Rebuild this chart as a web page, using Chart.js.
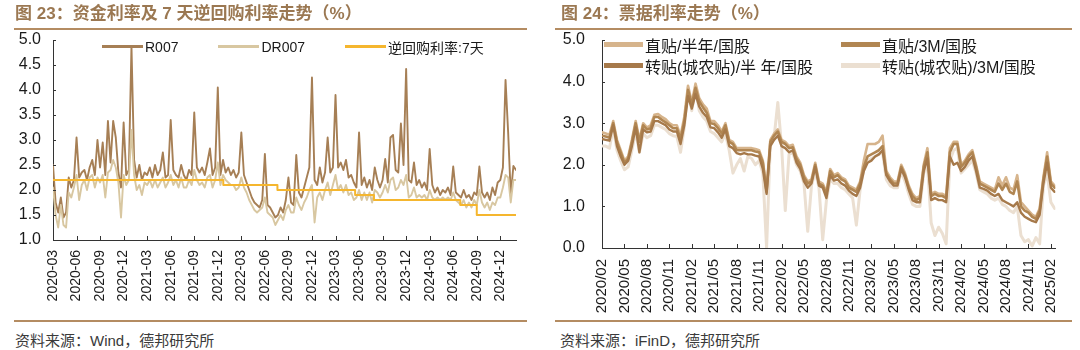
<!DOCTYPE html>
<html lang="zh-CN">
<head>
<meta charset="utf-8">
<title>资金利率及票据利率走势</title>
<script src="https://cdn.jsdelivr.net/npm/chart.js@4.4.1/dist/chart.umd.min.js"></script>
<style>
  html, body { margin: 0; padding: 0; background: #fff; }
  body { width: 1080px; height: 350px; position: relative; overflow: hidden;
         font-family: 'Liberation Sans', 'Noto Sans CJK SC', sans-serif; }
  .panel { position: absolute; top: 0; width: 540px; height: 350px; }
  .panel canvas { position: absolute; left: 0; top: 0; }
  .title { position: absolute; top: 4px; font-size: 17px; font-weight: bold; color: #9b7852;
           white-space: nowrap; line-height: 20px; }
  .rule { position: absolute; height: 2px; background: #b48c62; }
  .source { position: absolute; top: 331px; font-size: 15px; color: #3a3a3a;
            white-space: nowrap; line-height: 20px; }
  .legend { position: absolute; color: #1a1a1a; white-space: nowrap; }
  .legend .item { display: flex; align-items: center; height: 21px; }
  .legend .swatch { display: inline-block; margin-right: 2px; }
  #legendL { left: 102px; top: 36px; font-size: 14px; display: flex; gap: 40px; }
  #legendR { left: 64px; top: 34px; font-size: 16px; display: grid; grid-template-columns: 237px auto; }
</style>
</head>
<body>

<div class="panel" style="left:0">
  <canvas id="repoChart" width="540" height="320"></canvas>
  <div class="title" style="left:15px">图 23：资金利率及 7 天逆回购利率走势（%）</div>
  <div class="rule" style="left:14px; width:513px; top:28px"></div>
  <div class="legend" id="legendL"></div>
  <div class="rule" style="left:14px; width:513px; top:320px"></div>
  <div class="source" style="left:15px">资料来源：Wind，德邦研究所</div>
</div>

<div class="panel" style="left:540px">
  <canvas id="billChart" width="540" height="320"></canvas>
  <div class="title" style="left:21px">图 24：票据利率走势（%）</div>
  <div class="rule" style="left:15px; width:517px; top:28px"></div>
  <div class="legend" id="legendR"></div>
  <div class="rule" style="left:15px; width:517px; top:320px"></div>
  <div class="source" style="left:20px">资料来源：iFinD，德邦研究所</div>
</div>

<script>
// ── Left chart: 资金利率, 3 readings per month from 2020-03 ──
const repoTicks = ['2020-03', '2020-06', '2020-09', '2020-12', '2021-03', '2021-06', '2021-09', '2021-12',
  '2022-03', '2022-06', '2022-09', '2022-12', '2023-03', '2023-06', '2023-09', '2023-12',
  '2024-03', '2024-06', '2024-09', '2024-12'];

const r007 = [
  2.50, 1.75, 1.55,  1.85, 1.45, 1.55,  2.25, 2.05, 2.20,  3.05, 2.25, 2.35,  2.40, 2.20, 2.45,
  2.60, 2.30, 3.00,  2.45, 2.95, 2.30,  3.38, 2.55, 3.38,  3.05, 2.35, 2.05,  3.35, 2.30, 2.40,
  4.87, 2.60, 2.25,  2.50, 2.20, 2.35,  2.30, 2.45, 2.25,  2.50, 2.30, 2.40,  2.75, 2.25, 2.30,
  3.40, 2.40, 2.30,  2.25, 2.50, 2.30,  2.20, 2.40, 2.30,  3.55, 2.45, 2.35,  2.45, 2.30, 2.55,
  2.83, 2.30, 2.45,  4.05, 2.30, 2.60,  2.35, 2.45, 2.30,  2.40, 2.25, 2.35,  3.15, 2.30, 2.15,
  2.00, 1.85, 1.75,  1.70, 1.65, 1.80,  2.72, 1.70, 1.65,  1.55, 1.45, 1.50,  1.65, 1.55, 1.80,
  2.25, 1.75, 1.70,  2.70, 1.95, 1.85,  2.05, 2.25, 2.45,  4.25, 2.20, 2.10,  2.45, 2.15, 2.35,
  3.05, 2.35, 2.45,  3.90, 2.45, 2.55,  2.40, 2.60, 2.25,  2.30, 2.15, 2.05,  3.15, 2.10, 2.25,
  2.05, 2.20, 2.00,  2.45, 2.20, 2.05,  2.20, 2.62, 2.15,  3.05, 3.10, 2.40,  2.35, 3.33, 2.50,
  4.42, 2.20, 2.15,  2.55, 2.10, 2.20,  2.05, 2.15, 2.00,  2.82, 2.10, 1.95,  2.05, 1.90, 2.00,
  1.95, 2.05, 1.90,  2.47, 1.95, 1.90,  1.85, 2.00, 1.85,  1.90, 1.80, 1.95,  1.90, 2.47, 1.95,
  1.85, 1.95, 1.80,  2.05, 1.90, 2.15,  2.20, 2.45, 4.20,  3.15, 1.90, 2.48,  2.40
];

const dr007 = [
  2.05, 1.50, 1.25,  1.70, 1.30, 1.25,  1.95, 1.85, 2.05,  2.30, 1.80, 2.10,  2.20, 2.00, 2.25,
  2.30, 2.05, 2.25,  2.15, 2.30, 1.85,  2.35, 2.40, 2.60,  2.45, 2.15, 1.45,  2.30, 2.10, 2.20,
  3.20, 2.30, 2.00,  2.10, 1.90, 2.15,  2.10, 2.20, 2.05,  2.20, 2.05, 2.15,  2.25, 2.05, 2.15,
  2.30, 2.10, 2.20,  2.05, 2.25, 2.05,  2.05, 2.20, 2.10,  2.40, 2.20, 2.10,  2.15, 2.05, 2.25,
  2.30, 2.05, 2.20,  2.55, 2.10, 2.30,  2.20, 2.15, 2.10,  2.10, 2.00, 2.05,  2.25, 2.05, 1.95,
  1.80, 1.70, 1.60,  1.55, 1.60, 1.65,  1.85, 1.55, 1.50,  1.45, 1.30, 1.40,  1.50, 1.40, 1.60,
  1.70, 1.55, 1.55,  1.85, 1.70, 1.60,  1.75, 1.85, 2.00,  2.10, 1.35, 1.85,  1.95, 1.80, 2.00,
  2.15, 1.90, 2.10,  2.30, 2.00, 2.10,  1.95, 2.10, 1.90,  1.95, 1.80, 1.85,  2.00, 1.80, 1.95,
  1.80, 1.95, 1.75,  2.00, 1.95, 1.85,  1.95, 2.10, 1.95,  2.20, 2.25, 2.00,  2.05, 2.20, 2.10,
  2.30, 1.85, 1.90,  2.05, 1.85, 1.90,  1.85, 1.90, 1.80,  2.00, 1.85, 1.80,  1.85, 1.80, 1.85,
  1.80, 1.85, 1.80,  1.95, 1.80, 1.75,  1.70, 1.80, 1.65,  1.75, 1.65, 1.80,  1.70, 2.00, 1.75,
  1.65, 1.75, 1.60,  1.75, 1.70, 1.85,  1.85, 2.05, 2.30,  2.25, 1.75, 2.20,  2.20
];

// 7天逆回购: months since 2020-03 at which the rate changed
const repoMonths = [0, 21.7, 28.6, 38.5, 40.9, 51.9, 54.0, 59];
const repoRates = [2.20, 2.10, 2.00, 1.90, 1.80, 1.70, 1.50, 1.50];

// ── Right chart: 票据利率, 2 readings per month from 2020-02 ──
const billTicks = ['2020/02', '2020/05', '2020/08', '2020/11', '2021/02', '2021/05', '2021/08', '2021/11',
  '2022/02', '2022/05', '2022/08', '2022/11', '2023/02', '2023/05', '2023/08', '2023/11',
  '2024/02', '2024/05', '2024/08', '2024/11', '2025/02'];

const zt6m = [
  2.78, 2.75, 2.72, 3.05, 2.60, 2.35, 2.10, 2.20, 2.60, 3.05, 2.60, 3.00, 2.90, 2.95, 3.20, 3.22, 3.15, 3.10, 3.00, 2.95,
  2.95, 2.70, 3.15, 3.90, 3.50, 3.95, 3.60, 3.45, 3.35, 3.05, 3.05, 2.95, 2.80, 3.00, 2.60, 2.55, 2.40, 2.40, 2.40, 2.40,
  2.40, 2.38, 2.35, 2.10, 1.40, 2.60, 2.75, 2.85, 2.60, 2.55, 2.45, 2.48, 2.20, 2.05, 1.75, 1.60, 1.65, 2.05, 1.60, 1.55,
  1.35, 1.90, 1.75, 1.80, 1.70, 1.65, 1.50, 1.45, 1.40, 1.60, 2.10, 2.50, 2.50, 2.50, 2.55, 2.70, 1.85, 1.70, 1.60, 1.60,
  2.00, 1.80, 1.50, 1.30, 1.20, 1.25, 2.00, 2.40, 1.30, 1.35, 1.30, 1.30, 1.25, 2.40, 2.55, 2.55, 2.00, 2.10, 2.25, 2.35,
  2.00, 1.60, 1.55, 1.50, 1.45, 1.40, 1.70, 1.50, 1.70, 1.45, 1.40, 1.75, 1.10, 1.00, 0.90, 0.80, 0.75, 0.95, 1.70, 2.30,
  1.60, 1.50
];

const zt3m = [
  2.70, 2.68, 2.65, 3.00, 2.55, 2.30, 2.05, 2.15, 2.55, 3.00, 2.55, 2.95, 2.85, 2.88, 3.15, 3.15, 3.08, 3.02, 2.95, 2.88,
  2.88, 2.62, 3.05, 3.80, 3.45, 3.85, 3.52, 3.38, 3.25, 3.00, 2.98, 2.88, 2.75, 2.95, 2.55, 2.50, 2.35, 2.35, 2.35, 2.35,
  2.35, 2.32, 2.30, 2.05, 1.35, 2.55, 2.70, 2.80, 2.55, 2.50, 2.40, 2.42, 2.15, 2.00, 1.70, 1.55, 1.60, 2.00, 1.55, 1.50,
  1.30, 1.85, 1.70, 1.75, 1.65, 1.60, 1.45, 1.40, 1.35, 1.55, 1.95, 2.20, 2.25, 2.30, 2.35, 2.45, 1.80, 1.65, 1.55, 1.55,
  1.95, 1.75, 1.45, 1.25, 1.15, 1.20, 1.95, 2.30, 1.25, 1.30, 1.25, 1.25, 1.20, 2.30, 2.50, 2.50, 1.95, 2.05, 2.20, 2.30,
  1.95, 1.55, 1.50, 1.45, 1.40, 1.35, 1.55, 1.40, 1.55, 1.35, 1.30, 1.60, 1.00, 0.90, 0.85, 0.75, 0.70, 0.90, 1.65, 2.20,
  1.55, 1.45
];

const zhuan6m = [
  2.62, 2.60, 2.58, 2.95, 2.45, 2.20, 2.00, 2.10, 2.45, 2.90, 2.30, 2.85, 2.78, 2.80, 3.05, 3.05, 3.00, 2.95, 2.85, 2.80,
  2.80, 2.50, 2.95, 3.65, 3.35, 3.70, 3.40, 3.25, 3.15, 2.90, 2.88, 2.78, 2.65, 2.85, 2.45, 2.40, 2.28, 2.25, 2.28, 2.25,
  2.25, 2.22, 2.20, 1.90, 1.30, 2.45, 2.60, 2.70, 2.45, 2.40, 2.30, 2.35, 2.05, 1.90, 1.60, 1.45, 1.55, 1.95, 1.50, 1.45,
  1.20, 1.75, 1.62, 1.65, 1.55, 1.50, 1.38, 1.30, 1.25, 1.45, 1.85, 2.05, 2.10, 2.20, 2.25, 2.35, 1.75, 1.60, 1.50, 1.50,
  1.90, 1.70, 1.40, 1.15, 1.10, 1.10, 1.85, 2.15, 1.15, 1.20, 1.15, 1.15, 1.10, 2.20, 2.00, 2.05, 1.85, 1.95, 2.10, 2.20,
  1.85, 1.45, 1.42, 1.38, 1.30, 1.25, 1.30, 1.15, 1.10, 1.05, 1.00, 1.10, 0.85, 0.75, 0.70, 0.65, 0.62, 0.80, 1.55, 2.05,
  1.45, 1.35
];

const zhuan3m = [
  2.45, 2.45, 2.40, 2.90, 2.35, 2.10, 1.88, 1.95, 2.35, 2.80, 2.30, 2.75, 2.65, 2.70, 2.95, 2.95, 2.90, 2.85, 2.75, 2.70,
  2.68, 2.30, 2.90, 3.85, 3.30, 3.85, 3.30, 3.15, 3.05, 2.80, 2.75, 2.65, 2.55, 2.75, 2.35, 1.80, 2.00, 2.15, 1.85, 2.20,
  2.15, 2.00, 2.10, 1.80, 0.00, 2.50, 2.65, 3.50, 2.45, 0.90, 2.25, 2.30, 2.00, 1.85, 1.55, 0.40, 1.50, 1.85, 1.45, 0.20,
  1.15, 1.65, 1.55, 1.55, 1.45, 1.40, 1.30, 1.20, 0.55, 1.40, 1.90, 2.10, 2.15, 2.20, 2.25, 2.30, 1.65, 1.50, 1.45, 1.45,
  1.85, 1.60, 1.30, 1.05, 1.00, 1.00, 1.80, 2.00, 0.60, 0.30, 0.50, 0.35, 0.10, 2.10, 2.35, 2.40, 1.80, 1.90, 2.00, 2.10,
  1.80, 1.40, 1.35, 1.30, 1.20, 1.15, 1.20, 1.05, 1.00, 0.90, 0.85, 1.00, 0.30, 0.15, 0.20, 0.05, 0.25, 0.10, 1.50, 1.80,
  1.10, 0.95
];

(function () {
  'use strict';

  const FONT = "'Liberation Sans', 'Noto Sans CJK SC', sans-serif";
  const AXIS = '#333333';
  Chart.defaults.font.family = FONT;
  Chart.defaults.color = '#1a1a1a';

  // small tick marks pointing into the plot, like the report style
  const innerTicks = {
    id: 'innerTicks',
    afterDraw(chart, args, opts) {
      const { ctx, chartArea, scales: { x, y } } = chart;
      ctx.save();
      ctx.strokeStyle = AXIS;
      ctx.lineWidth = 1;
      ctx.beginPath();
      x.ticks.forEach((t, i) => {
        if (t.label === null || t.label === undefined) return;
        const px = Math.round(x.getPixelForTick(i)) + 0.5;
        ctx.moveTo(px, chartArea.bottom);
        ctx.lineTo(px, chartArea.bottom - opts.xLen);
      });
      y.ticks.forEach((t, i) => {
        const py = Math.round(y.getPixelForTick(i)) + 0.5;
        ctx.moveTo(chartArea.left, py);
        ctx.lineTo(chartArea.left + opts.yLen, py);
      });
      ctx.stroke();
      ctx.restore();
    }
  };

  const toPoints = (values, perMonth) => values.map((v, i) => ({ x: i / perMonth, y: v }));

  function makeChart(id, o) {
    return new Chart(document.getElementById(id), {
      type: 'line',
      data: { datasets: o.datasets },
      options: {
        responsive: false,
        animation: false,
        layout: { padding: { left: 0, right: o.padRight, top: 40, bottom: 0 } },
        elements: {
          point: { radius: 0 },
          line: { tension: 0, borderJoinStyle: 'round', borderCapStyle: 'round' }
        },
        plugins: {
          legend: { display: false },
          tooltip: { enabled: false },
          innerTicks: { xLen: 4, yLen: 3 }
        },
        scales: {
          x: {
            type: 'linear',
            min: 0,
            max: o.xMax,
            grid: { display: false, drawTicks: false },
            border: { color: AXIS, width: 1 },
            ticks: {
              stepSize: 3,
              includeBounds: false,
              autoSkip: false,
              minRotation: 90,
              maxRotation: 90,
              padding: o.xPad,
              color: '#1a1a1a',
              font: { size: o.xFont },
              callback: v => {
                const k = Math.round(v / 3);
                return Math.abs(v - k * 3) < 1e-6 ? o.xLabels[k] : null;
              }
            },
            afterFit: s => { s.height = o.xHeight; }
          },
          y: {
            min: o.yMin,
            max: o.yMax,
            grid: { display: false, drawTicks: false },
            border: { color: AXIS, width: 1 },
            ticks: {
              stepSize: o.yStep,
              padding: o.yPad,
              color: '#1a1a1a',
              font: { size: o.yFont },
              callback: v => v.toFixed(1)
            },
            afterFit: s => { s.width = o.yWidth; }
          }
        }
      },
      plugins: [innerTicks]
    });
  }

  function renderLegend(id, items) {
    document.getElementById(id).innerHTML = items.map(d =>
      `<div class="item"><span class="swatch" style="width:${d.w}px;height:${d.h}px;background:${d.color}"></span>${d.label}</div>`
    ).join('');
  }

  // ── 图 23 ──
  const left = [
    { label: 'R007', data: toPoints(r007, 3), borderColor: '#a67f55', borderWidth: 1.9, order: 2 },
    { label: 'DR007', data: toPoints(dr007, 3), borderColor: '#d8c7a1', borderWidth: 1.9, order: 1 },
    {
      label: '逆回购利率:7天',
      data: repoMonths.map((m, i) => ({ x: m, y: repoRates[i] })),
      borderColor: '#f5b62e', borderWidth: 2, stepped: 'before', order: 0
    }
  ];
  makeChart('repoChart', {
    datasets: left, xMax: 59, xLabels: repoTicks, padRight: 24,
    xHeight: 80, xPad: 10, xFont: 14,
    yMin: 1, yMax: 5, yStep: 0.5, yWidth: 53, yPad: 12, yFont: 16
  });
  renderLegend('legendL', left.map(d => ({ label: d.label, color: d.borderColor, w: 41, h: 3 })));

  // ── 图 24 ──
  const right = [
    { label: '直贴/半年/国股', data: toPoints(zt6m, 2), borderColor: '#d6b48c', borderWidth: 2.6, order: 2 },
    { label: '直贴/3M/国股', data: toPoints(zt3m, 2), borderColor: '#b18652', borderWidth: 2.6, order: 1 },
    { label: '转贴(城农贴)/半 年/国股', data: toPoints(zhuan6m, 2), borderColor: '#a6794a', borderWidth: 2.4, order: 0 },
    { label: '转贴(城农贴)/3M/国股', data: toPoints(zhuan3m, 2), borderColor: '#ebdfd1', borderWidth: 3, order: 3 }
  ];
  makeChart('billChart', {
    datasets: right, xMax: 60.6, xLabels: billTicks, padRight: 12,
    xHeight: 72, xPad: 11, xFont: 15,
    yMin: 0, yMax: 5, yStep: 1, yWidth: 62, yPad: 17, yFont: 16
  });
  renderLegend('legendR', right.map(d => ({ label: d.label, color: d.borderColor, w: 39, h: 5 })));
})();
</script>
</body>
</html>
